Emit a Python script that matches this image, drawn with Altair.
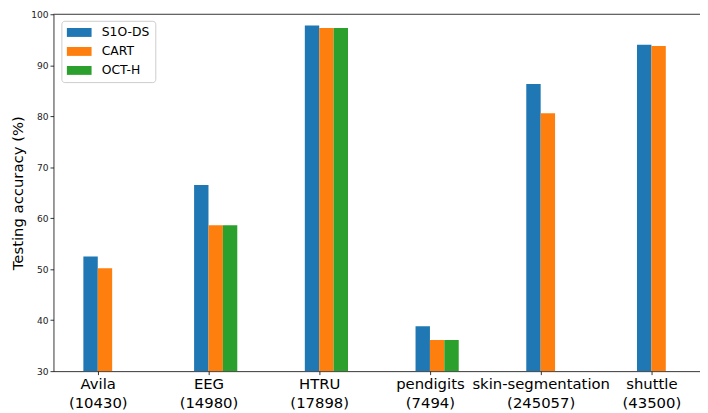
import altair as alt
import pandas as pd

categories = ["Avila", "EEG", "HTRU", "pendigits", "skin-segmentation", "shuttle"]
sizes = ["10430", "14980", "17898", "7494", "245057", "43500"]
models = ["S1O-DS", "CART", "OCT-H"]
s1o_ds = [52.5, 66.5, 97.8, 38.8, 86.3, 94.0]
cart = [50.2, 58.6, 97.3, 36.1, 80.6, 93.8]
oct_h = [None, 58.6, 97.3, 36.1, None, None]
colors = ["#1f77b4", "#ff7f0e", "#2ca02c"]

rows = []
for m_i, (m, vals) in enumerate(zip(models, [s1o_ds, cart, oct_h])):
    for c_i, v in enumerate(vals):
        if v is None:
            continue
        rows.append({"idx": c_i, "model": m, "order": m_i, "value": v})
df = pd.DataFrame(rows)

W = 0.13
label_expr = "[" + ",".join(
    "['%s','(%s)']" % (c, s) for c, s in zip(categories, sizes)
) + "][datum.value]"

font = "DejaVu Sans"

bars = alt.Chart(df).transform_calculate(
    x0="datum.idx + (datum.order - 1) * %f" % W,
    x1="datum.idx + datum.order * %f" % W,
).mark_bar(clip=True).encode(
    x=alt.X("x0:Q",
            scale=alt.Scale(domain=[-0.4, 5.439], nice=False, zero=False),
            axis=alt.Axis(values=list(range(len(categories))), labelExpr=label_expr,
                          title=None, grid=False, tickSize=3.5, labelFontSize=15,
                          labelLineHeight=19, labelPadding=2, labelColor="black",
                          tickColor="black", domainColor="black", domainWidth=0.8,
                          tickWidth=0.8, labelFont=font, labelFlush=False)),
    x2="x1:Q",
    y=alt.Y("value:Q",
            scale=alt.Scale(domain=[30, 100], nice=False, zero=False),
            axis=alt.Axis(values=list(range(30, 101, 10)), title="Testing accuracy (%)",
                          grid=False, tickSize=3.5, labelFontSize=9.2, labelPadding=2,
                          labelColor="#222", tickColor="black", domainColor="black",
                          domainWidth=0.8, tickWidth=0.8, labelFont=font,
                          titleFont=font, titleFontSize=15, titleFontWeight="normal",
                          titleColor="black", titlePadding=5)),
    y2=alt.datum(30),
    color=alt.Color("model:N", scale=alt.Scale(domain=models, range=colors),
                    sort=models,
                    legend=alt.Legend(title=None, orient="none", legendX=8, legendY=6.6,
                                      fillColor="white", strokeColor="#cccccc",
                                      cornerRadius=3, padding=5.3,
                                      symbolType="M-1,-0.72L3,-0.72L3,0.72L-1,0.72Z",
                                      symbolSize=156, symbolStrokeWidth=0,
                                      symbolOpacity=1,
                                      labelFontSize=12.5, labelFont=font,
                                      labelColor="black", labelOffset=22.5,
                                      rowPadding=6.2)),
)

top = alt.Chart(pd.DataFrame({"v": [100]})).mark_rule(color="black", strokeWidth=0.8).encode(
    y=alt.Y("v:Q", scale=alt.Scale(domain=[30, 100], nice=False, zero=False))
)

chart = alt.layer(bars, top).properties(
    width=654, height=361,
    autosize=alt.AutoSizeParams(type="none"),
    padding={"left": 46, "top": 4, "right": 0, "bottom": 40},
).configure_view(stroke=None)

chart.save("out.html", embed_options={"renderer": "svg", "actions": False})
